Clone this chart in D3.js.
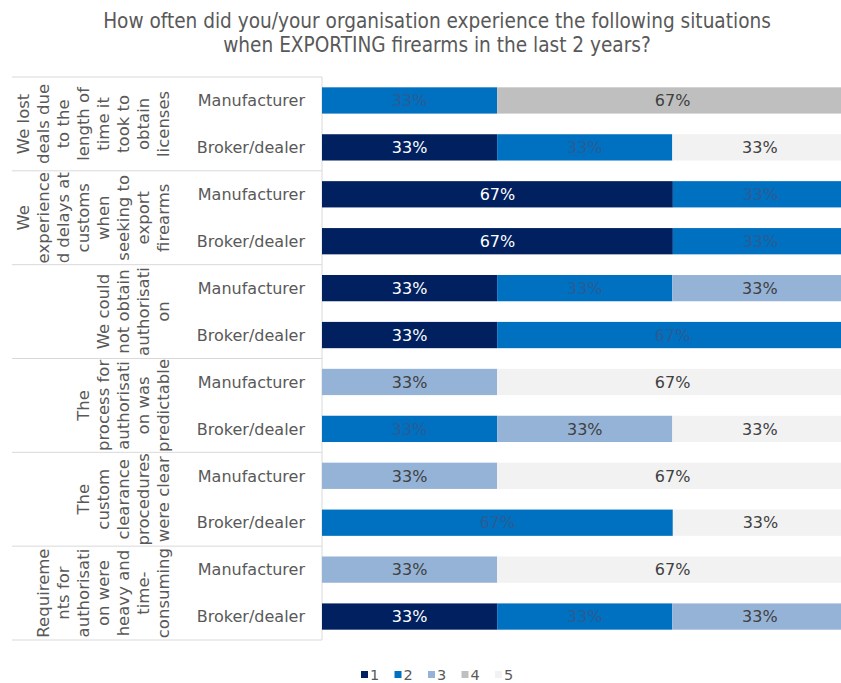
<!DOCTYPE html>
<html><head><meta charset="utf-8">
<script src="https://cdn.jsdelivr.net/npm/d3@7"></script>
<style>body{margin:0;background:#fff;} svg{display:block;}</style>
</head><body>
<svg id="c" width="841" height="683"></svg>
<script>
const titleLines = ["How often did you/your organisation experience the following situations", "when EXPORTING firearms in the last 2 years?"];
const groupLabels = [
  ["We lost","deals due","to the","length of","time it","took to","obtain","licenses"],
  ["We","experience","d delays at","customs","when","seeking to","export","firearms"],
  ["We could","not obtain","authorisati","on"],
  ["The","process for","authorisati","on was","predictable"],
  ["The","custom","clearance","procedures","were clear"],
  ["Requireme","nts for","authorisati","on were","heavy and","time-","consuming"]
];
const respondentTypes = ["Manufacturer","Broker/dealer"];
const seriesNames = ["1","2","3","4","5"];
// values in %, rows ordered group by group: Manufacturer, Broker/dealer
const s1 = [0,33.3, 66.7,66.7, 33.3,33.3, 0,0, 0,0, 0,33.3];
const s2 = [33.3,33.3, 33.3,33.3, 33.3,66.7, 0,33.3, 0,66.7, 0,33.3];
const s3 = [0,0, 0,0, 33.3,0, 33.3,33.3, 33.3,0, 33.3,33.3];
const s4 = [66.7,0, 0,0, 0,0, 0,0, 0,0, 0,0];
const s5 = [0,33.3, 0,0, 0,0, 66.7,33.3, 66.7,33.3, 66.7,0];
const colors = ["#002060","#0070C0","#95B3D7","#BFBFBF","#F2F2F2"];
const labelColors = ["#ffffff","#2a5d94","#404040","#404040","#404040"];

const FONT = "'DejaVu Sans', Verdana, sans-serif";
const svg = d3.select("#c");
const rows = [];
groupLabels.forEach((g,gi)=>respondentTypes.forEach((t,ti)=>{
  const i = gi*2+ti;
  rows.push({id:i, group:gi, type:t, "1":s1[i],"2":s2[i],"3":s3[i],"4":s4[i],"5":s5[i]});
}));

const x = d3.scaleLinear().domain([0,100]).range([322,848]);
const y = d3.scaleBand().domain(rows.map(r=>r.id)).range([77,640]).paddingInner(0.44).paddingOuter(0.22);
const gy = d3.scaleBand().domain(d3.range(groupLabels.length)).range([77,640]);

// title
svg.append("g").selectAll("text").data(titleLines).join("text")
  .attr("x",437).attr("y",(d,i)=>28+i*24)
  .attr("text-anchor","middle").attr("font-family","'DejaVu Sans Condensed', "+FONT)
  .attr("font-size",20.6).attr("fill","#595959").text(d=>d);

// separators
const seps = d3.range(groupLabels.length+1).map(i=> i<groupLabels.length ? gy(i) : gy.range()[1]);
svg.append("g").selectAll("line").data(seps).join("line")
  .attr("x1",12).attr("x2",322).attr("y1",d=>d).attr("y2",d=>d)
  .attr("stroke","#d9d9d9").attr("stroke-width",1);
svg.append("line").attr("x1",322).attr("x2",322).attr("y1",77).attr("y2",640)
  .attr("stroke","#d9d9d9");

// stacked bars
const stack = d3.stack().keys(seriesNames)(rows);
const layers = svg.append("g").selectAll("g").data(stack).join("g")
  .attr("fill",(d,i)=>colors[i]);
layers.selectAll("rect").data(d=>d.filter(p=>p[1]-p[0]>0)).join("rect")
  .attr("x",d=>x(d[0])).attr("width",d=>x(d[1])-x(d[0]))
  .attr("y",d=>y(d.data.id)).attr("height",y.bandwidth());
stack.forEach((layer,li)=>{
  svg.append("g").selectAll("text").data(layer.filter(p=>p[1]-p[0]>0)).join("text")
    .attr("x",d=>(x(d[0])+x(d[1]))/2).attr("y",d=>y(d.data.id)+y.bandwidth()/2)
    .attr("dy","0.36em").attr("text-anchor","middle")
    .attr("font-family",FONT).attr("font-size",16).attr("fill",labelColors[li])
    .text(d=>Math.round(d[1]-d[0])+"%");
});

// category labels
svg.append("g").selectAll("text").data(rows).join("text")
  .attr("x",305).attr("y",d=>y(d.id)+y.bandwidth()/2).attr("dy","0.36em")
  .attr("text-anchor","end").attr("font-family",FONT).attr("font-size",16)
  .attr("fill","#595959").text(d=>d.type);

// group labels (rotated)
groupLabels.forEach((lines,gi)=>{
  const cy = gy(gi)+gy.bandwidth()/2;
  const n = lines.length;
  svg.append("g").selectAll("text").data(lines).join("text")
    .attr("transform",(d,i)=>`translate(${163-(n-1-i)*20},${cy}) rotate(-90)`)
    .attr("text-anchor","middle").attr("dy","0.36em")
    .attr("font-family",FONT).attr("font-size",16.5).attr("fill","#595959")
    .text(d=>d);
});

// legend
const lg = svg.append("g").selectAll("g").data(seriesNames).join("g")
  .attr("transform",(d,i)=>`translate(${361+i*33.5},0)`);
lg.append("rect").attr("x",0).attr("y",671).attr("width",7).attr("height",7)
  .attr("fill",(d,i)=>colors[i]);
lg.append("text").attr("x",9).attr("y",679.5).attr("font-family",FONT)
  .attr("font-size",14.5).attr("fill","#595959").text(d=>d);
</script>
</body></html>
